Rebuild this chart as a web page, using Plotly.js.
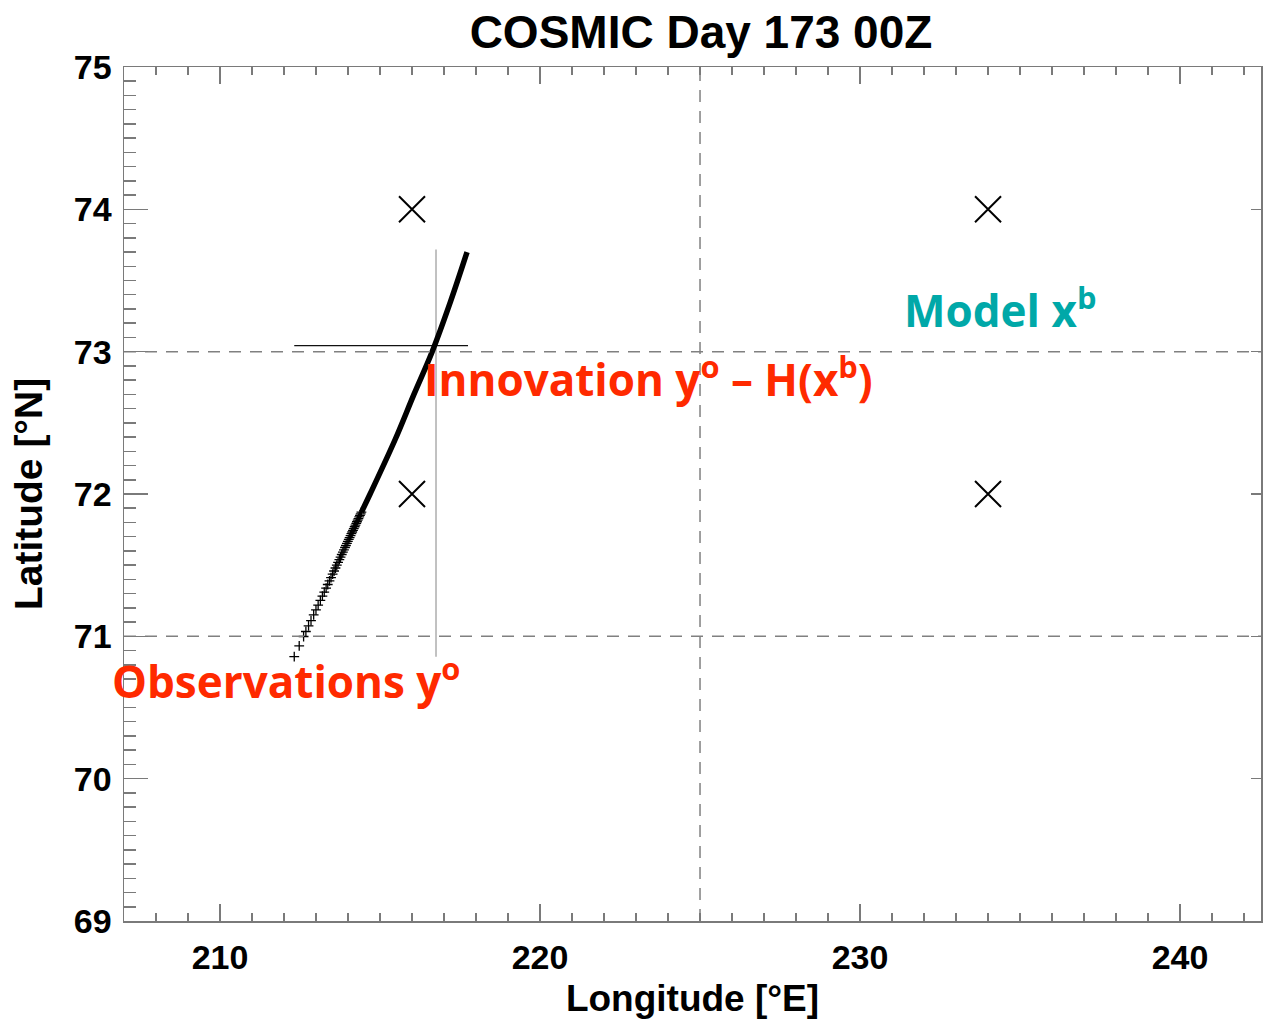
<!DOCTYPE html>
<html>
<head>
<meta charset="utf-8">
<script src="https://cdn.plot.ly/plotly-3.0.1.min.js"></script>
<style>html,body{margin:0;padding:0;background:#fff;}#chart{width:1263px;height:1025px;}</style>
</head>
<body>
<div id="chart"></div>
<script>
// ---- data ----
const xRange = [207, 242.53];
const yRange = [69, 75];
const gridLon = [225];
const gridLat = [71, 73];
const modelLon = [216, 234, 216, 234];
const modelLat = [74, 74, 72, 72];
const obsSparseLon = [212.320,212.475,212.612,212.684,212.767,212.844,212.927,212.999,213.067,213.136,213.200,213.258,213.316,213.367,213.421,213.469,213.519,213.564,213.608,213.649,213.690,213.730,213.767,213.804,213.839,213.873,213.906,213.935,213.966,213.995,214.024,214.051,214.080,214.106,214.131,214.156,214.181,214.208,214.233,214.258,214.280,214.303,214.326,214.351,214.373,214.396,214.419];
const obsSparseLat = [70.858,70.933,70.999,71.034,71.074,71.111,71.151,71.186,71.219,71.252,71.283,71.311,71.339,71.364,71.390,71.413,71.437,71.459,71.480,71.500,71.520,71.539,71.557,71.575,71.592,71.608,71.624,71.638,71.653,71.667,71.681,71.694,71.708,71.721,71.733,71.745,71.757,71.770,71.782,71.794,71.805,71.816,71.827,71.839,71.850,71.861,71.872];
const obsDenseLon = [214.419, 214.69, 215.47, 216.06, 216.63, 217.20, 217.72];
const obsDenseLat = [71.872, 72.00, 72.381, 72.70, 73.00, 73.35, 73.70];
const innovLon = [212.32, 217.75];   // horizontal extent of innovation cross
const innovLatLine = 73.042;
const innovLonLine = 216.75;
const innovLat = [70.856, 73.717];   // vertical extent
const labels = {
  title: 'COSMIC Day 173 00Z',
  xTitle: 'Longitude [°E]',
  yTitle: 'Latitude [°N]',
  obs: 'Observations y<sup>o</sup>',
  innov: 'Innovation y<sup>o</sup> – H(x<sup>b</sup>)',
  model: 'Model x<sup>b</sup>'
};
const labelPos = {obs:[207.0,70.70], innov:[216.30,72.82], model:[231.32,73.31]};

// ---- build traces ----
const gridColor = '#808080';
const axColor = '#7a7a7a';
const dashStyle = '12px,9px';

const hx = [], hy = [];
gridLat.forEach(v => { hx.push(xRange[0], xRange[1], null); hy.push(v, v, null); });
const vx = [], vy = [];
gridLon.forEach(v => { vx.push(v, v, null); vy.push(yRange[0], yRange[1], null); });

const traces = [
  {x: hx, y: hy, mode:'lines', yaxis:'y2', line:{color:gridColor, width:1.5, dash:dashStyle}, hoverinfo:'skip'},
  {x: vx, y: vy, mode:'lines', line:{color:gridColor, width:1.5, dash:dashStyle}, hoverinfo:'skip'},
  {x: [innovLonLine, innovLonLine], y: innovLat, mode:'lines', line:{color:'#999999', width:1.2}},
  {x: innovLon, y: [innovLatLine, innovLatLine], mode:'lines', line:{color:'#111111', width:1.2}},
  {x: obsDenseLon, y: obsDenseLat, mode:'lines', line:{color:'#000', width:5.5, shape:'spline'}},
  {x: obsSparseLon, y: obsSparseLat, mode:'markers', marker:{symbol:'cross-thin-open', size:7, color:'#000', line:{color:'#000', width:1.3}}},
  {x: modelLon, y: modelLat, mode:'markers', marker:{symbol:'x-thin-open', size:26, color:'#000', line:{color:'#000', width:2}}}
];

const bold = (size, color, family) => ({family: family || '"Liberation Sans", Arial, sans-serif', size: size, color: color || '#000', weight: 'bold'});

const layout = {
  width: 1263, height: 1025,
  margin: {l:124, r:2, t:67, b:104},
  paper_bgcolor:'#fff', plot_bgcolor:'#fff',
  showlegend: false,
  title: {text: labels.title, font: bold(46), x: 701/1263, xref:'container', xanchor:'center', y: 1-32/1025, yref:'container', yanchor:'middle'},
  xaxis: {
    range: xRange, tick0: 210, dtick: 10, ticks:'inside', ticklen:17, tickwidth:1.5, tickcolor:axColor,
    showline:true, linecolor:axColor, linewidth:1.5, mirror:'ticks', showgrid:false, zeroline:false,
    minor: {tick0: 207, dtick:1, ticks:'inside', ticklen:8, tickwidth:1.5, tickcolor:axColor, showgrid:false},
    tickfont: bold(34), ticklabelstandoff: 6,
    title: {text: labels.xTitle, font: bold(37), standoff: 10}
  },
  yaxis: {
    range: yRange, tick0: 69, dtick: 1, ticks:'inside', ticklen:24, tickwidth:1.5, tickcolor:axColor,
    showline:true, linecolor:axColor, linewidth:1.5, mirror:false, showgrid:false, zeroline:false,
    minor: {tick0: 69, dtick:0.1, ticks:'inside', ticklen:12, tickwidth:1.5, tickcolor:axColor, showgrid:false},
    tickfont: bold(34), ticklabelstandoff: 4,
    title: {text: labels.yTitle, font: bold(39), standoff: 19}
  },
  yaxis2: {
    range: yRange, overlaying:'y', side:'right', tick0:69, dtick:1, ticks:'inside', ticklen:10, tickwidth:1.5,
    tickcolor:axColor, showline:true, linecolor:axColor, linewidth:1.5, showticklabels:false, showgrid:false, zeroline:false
  },
  annotations: [
    {x: labelPos.obs[0], y: labelPos.obs[1], xref:'x', yref:'y', xshift:-14, text: labels.obs, showarrow:false, xanchor:'left', yanchor:'middle', font: bold(44, '#ff2a00', '"Open Sans", sans-serif')},
    {x: labelPos.innov[0], y: labelPos.innov[1], xref:'x', yref:'y', text: labels.innov, showarrow:false, xanchor:'left', yanchor:'middle', font: bold(44, '#ff2a00', '"Open Sans", sans-serif')},
    {x: labelPos.model[0], y: labelPos.model[1], xref:'x', yref:'y', text: labels.model, showarrow:false, xanchor:'left', yanchor:'middle', font: bold(44, '#00a8a8', '"Open Sans", sans-serif')}
  ]
};

Plotly.newPlot('chart', traces, layout, {staticPlot:true, displayModeBar:false});
</script>
</body>
</html>
